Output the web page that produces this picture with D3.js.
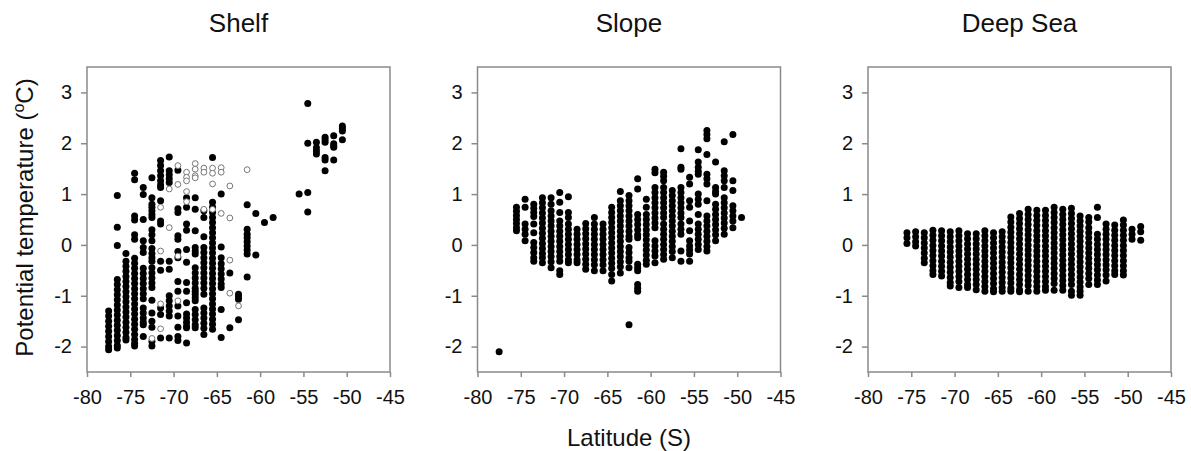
<!DOCTYPE html>
<html>
<head>
<meta charset="utf-8">
<script src="https://cdn.jsdelivr.net/npm/d3@7"></script>
<style>
  body { margin: 0; background: #fff; }
  svg text { font-family: "Liberation Sans", Arial, sans-serif; fill: #111; }
</style>
</head>
<body>
<svg id="chart"></svg>
<script>
// Shelf: filled circles, one list of temperatures per latitude column
const shelfLat = [-77.5, -76.5, -75.5, -74.5, -73.5, -72.5, -71.5, -70.5, -69.5, -68.5, -67.5, -66.5, -65.5,
    -64.5, -63.5, -62.5, -61.5, -60.5, -59.5, -58.5, -55.5, -54.5, -53.5, -52.5, -51.5, -50.5];
const shelfTemp = [
    [-1.3, -1.4, -1.5, -1.6, -1.7, -1.8, -1.9, -2.0, -2.06],
    [0.97, 0.35, -0.01, -0.68, -0.78, -0.88, -0.98, -1.08, -1.18, -1.28, -1.38, -1.48, -1.58, -1.68, -1.78, -1.88, -1.98, -2.03],
    [-0.17, -0.32, -0.42, -0.52, -0.62, -0.72, -0.82, -0.92, -1.02, -1.12, -1.22, -1.32, -1.42, -1.52, -1.62, -1.72, -1.82, -1.87],
    [1.41, 1.28, 0.57, 0.49, 0.2, 0.11, -0.26, -0.36, -0.46, -0.56, -0.66, -0.76, -0.86, -0.96, -1.06, -1.16, -1.26, -1.36, -1.46, -1.56, -1.66, -1.76, -1.86, -1.94, -1.99],
    [1.13, 0.99, 0.5, 0.08, -0.05, -0.15, -0.46, -0.56, -0.66, -0.76, -0.86, -0.96, -1.06, -1.24, -1.34, -1.44, -1.52, -1.57, -1.8],
    [1.32, 0.93, 0.8, 0.74, 0.67, 0.6, 0.54, 0.3, 0.2, 0.08, -0.07, -0.17, -0.25, -0.32, -0.45, -0.55, -0.65, -0.75, -0.84, -1.09, -1.34, -1.5, -1.62, -1.9, -1.99],
    [1.66, 1.56, 1.46, 1.36, 1.26, 1.18, 1.13, 0.87, 0.47, 0.41, -0.32, -0.5, -1.24, -1.37, -1.83],
    [1.73, 1.46, 1.38, 1.3, 1.23, -0.32, -0.48, -1.0, -1.1, -1.2, -1.3, -1.4, -1.83],
    [1.47, 0.71, 0.64, 0.18, 0.11, -0.13, -0.25, -0.72, -0.91, -1.2, -1.4, -1.62, -1.8, -1.88],
    [0.93, 0.74, 0.41, 0.29, -0.09, -0.34, -0.74, -0.91, -1.14, -1.36, -1.44, -1.52, -1.6, -1.63, -1.93],
    [0.93, 0.7, 0.28, -0.05, -0.12, -0.18, -0.45, -0.55, -0.65, -0.75, -0.85, -0.91, -0.97, -1.04, -1.1, -1.27, -1.37, -1.47, -1.57, -1.63],
    [0.67, 0.54, 0.16, -0.05, -0.15, -0.25, -0.35, -0.45, -0.55, -0.65, -0.75, -0.85, -0.97, -1.24, -1.34, -1.44, -1.54, -1.64, -1.76],
    [1.72, 0.84, 0.74, 0.64, 0.54, 0.44, 0.34, 0.24, 0.14, 0.04, -0.06, -0.16, -0.26, -0.36, -0.46, -0.56, -0.66, -0.76, -0.86, -0.96, -1.06, -1.16, -1.26, -1.36, -1.46, -1.56, -1.66],
    [1.0, -0.04, -0.25, -0.37, -0.47, -0.57, -0.67, -0.77, -0.84, -1.27, -1.82],
    [-0.55, -1.63],
    [-0.97, -1.02, -1.07, -1.47],
    [0.79, 0.31, 0.21, 0.14, 0.06, -0.02, -0.1, -0.18, -0.63],
    [0.62, -0.2],
    [0.44],
    [0.54],
    [1.0],
    [2.78, 2.0, 1.03, 0.65],
    [2.02, 1.91, 1.85, 1.79],
    [2.12, 2.07, 2.02, 1.72, 1.67, 1.46],
    [2.15, 1.99, 1.95, 1.92, 1.67],
    [2.34, 2.29, 2.24, 2.07]
];

// Shelf: open circles
const shelfOpenLat = [-72.5, -71.5, -70.5, -69.5, -68.5, -67.5, -66.5, -65.5, -64.5, -63.5, -62.5, -61.5];
const shelfOpenTemp = [
    [-1.84],
    [0.74, -0.12, -1.16, -1.65],
    [1.1, 0.34],
    [1.56, 1.19, -0.22, -1.1],
    [1.43, 1.33, 1.26, 1.05, 0.85],
    [1.6, 1.49, 1.36, 1.32],
    [1.51, 1.43, 0.7],
    [1.51, 1.41, 1.2, 0.7],
    [1.52, 1.43, 0.62],
    [1.16, 0.53, -0.3, -0.95],
    [-1.2],
    [1.48]
];

// Slope
const slopeLat = [-77.5, -75.5, -74.5, -73.5, -72.5, -71.5, -70.5, -69.5, -68.5, -67.5, -66.5, -65.5, -64.5, -63.5,
    -62.5, -61.5, -60.5, -59.5, -58.5, -57.5, -56.5, -55.5, -54.5, -53.5, -52.5, -51.5, -50.5, -49.5];
const slopeTemp = [
    [-2.1],
    [0.74, 0.66, 0.58, 0.5, 0.42, 0.34, 0.28],
    [0.9, 0.74, 0.41, 0.31, 0.21, 0.08],
    [0.8, 0.72, 0.64, 0.56, 0.41, 0.24, 0.05, -0.05, -0.15, -0.25, -0.32],
    [0.93, 0.83, 0.73, 0.63, 0.53, 0.43, 0.33, 0.23, 0.13, 0.03, -0.07, -0.17, -0.25, -0.35],
    [0.93, 0.8, 0.67, 0.57, 0.47, 0.37, 0.27, 0.17, 0.07, -0.03, -0.13, -0.23, -0.33, -0.45],
    [1.03, 0.84, 0.64, 0.47, 0.37, 0.27, 0.17, 0.07, -0.03, -0.13, -0.23, -0.32, -0.51, -0.58],
    [0.95, 0.64, 0.54, 0.41, 0.31, 0.21, 0.11, 0.01, -0.09, -0.19, -0.29, -0.35],
    [0.31, 0.21, 0.11, 0.01, -0.09, -0.19, -0.29, -0.35],
    [0.42, 0.32, 0.22, 0.12, 0.02, -0.08, -0.18, -0.28, -0.38, -0.48],
    [0.54, 0.41, 0.31, 0.21, 0.11, 0.01, -0.09, -0.19, -0.29, -0.39, -0.51],
    [0.41, 0.31, 0.21, 0.11, 0.01, -0.09, -0.19, -0.29, -0.39, -0.51],
    [0.74, 0.64, 0.54, 0.44, 0.34, 0.24, 0.14, 0.04, -0.06, -0.16, -0.26, -0.36, -0.46, -0.58, -0.71],
    [1.05, 0.87, 0.77, 0.67, 0.57, 0.47, 0.37, 0.27, 0.17, 0.07, -0.03, -0.13, -0.23, -0.33, -0.43, -0.55],
    [0.97, 0.87, 0.77, 0.67, 0.57, 0.47, 0.37, 0.27, 0.17, 0.11, -0.05, -0.15, -0.25, -0.32, -0.45, -1.57],
    [1.3, 1.1, 0.6, 0.5, 0.4, 0.3, 0.2, 0.14, -0.38, -0.45, -0.51, -0.78, -0.85, -0.91],
    [0.9, 0.74, 0.6, 0.5, 0.4, 0.3, 0.2, 0.1, 0.0, -0.1, -0.2, -0.3, -0.38],
    [1.49, 1.42, 1.13, 1.03, 0.93, 0.83, 0.73, 0.63, 0.53, 0.43, 0.34, 0.08, -0.02, -0.12, -0.22, -0.35],
    [1.43, 1.35, 1.26, 1.13, 1.03, 0.93, 0.83, 0.73, 0.63, 0.54, 0.41, 0.31, 0.21, 0.11, 0.01, -0.09, -0.19, -0.28],
    [1.07, 0.97, 0.87, 0.77, 0.67, 0.57, 0.47, 0.37, 0.27, 0.17, 0.07, -0.03, -0.13, -0.25],
    [1.89, 1.53, 1.49, 1.13, 1.03, 0.93, 0.83, 0.73, 0.63, 0.54, 0.41, 0.31, 0.21, -0.12, -0.32],
    [1.33, 1.2, 0.87, 0.74, 0.47, 0.28, 0.08, -0.02, -0.1, -0.18, -0.32],
    [1.87, 1.63, 1.53, 1.45, 1.39, 1.0, 0.9, 0.8, 0.6, 0.41, 0.31, 0.21, 0.11, 0.01, -0.09],
    [2.25, 2.17, 2.09, 1.78, 1.39, 1.3, 1.2, 0.87, 0.57, 0.47, 0.37, 0.27, 0.17, 0.07, -0.03, -0.12],
    [1.63, 1.13, 1.05, 1.0, 0.8, 0.7, 0.6, 0.5, 0.4, 0.3, 0.2, 0.08],
    [2.03, 1.46, 1.36, 1.26, 1.13, 0.93, 0.83, 0.73, 0.63, 0.53, 0.43, 0.33, 0.21],
    [2.17, 1.26, 1.07, 0.77, 0.67, 0.57, 0.47, 0.34],
    [0.54]
];

// Deep Sea
const deepLat = [-75.5, -74.5, -73.5, -72.5, -71.5, -70.5, -69.5, -68.5, -67.5, -66.5, -65.5, -64.5, -63.5, -62.5,
    -61.5, -60.5, -59.5, -58.5, -57.5, -56.5, -55.5, -54.5, -53.5, -52.5, -51.5, -50.5, -49.5, -48.5];
const deepTemp = [
    [0.24, 0.14, 0.03],
    [0.26, 0.16, 0.06, -0.02],
    [0.24, 0.14, 0.04, -0.06, -0.16, -0.26, -0.35],
    [0.29, 0.19, 0.09, -0.01, -0.11, -0.21, -0.31, -0.41, -0.51, -0.58],
    [0.28, 0.18, 0.08, -0.02, -0.12, -0.22, -0.32, -0.42, -0.52, -0.61],
    [0.26, 0.16, 0.06, -0.04, -0.14, -0.24, -0.34, -0.44, -0.54, -0.64, -0.74, -0.81],
    [0.28, 0.18, 0.08, -0.02, -0.12, -0.22, -0.32, -0.42, -0.52, -0.62, -0.72, -0.84],
    [0.22, 0.12, 0.02, -0.08, -0.18, -0.28, -0.38, -0.48, -0.58, -0.68, -0.78, -0.84],
    [0.22, 0.12, 0.02, -0.08, -0.18, -0.28, -0.38, -0.48, -0.58, -0.68, -0.78, -0.88],
    [0.28, 0.18, 0.08, -0.02, -0.12, -0.22, -0.32, -0.42, -0.52, -0.62, -0.72, -0.82, -0.91],
    [0.24, 0.14, 0.04, -0.06, -0.16, -0.26, -0.36, -0.46, -0.56, -0.66, -0.76, -0.86, -0.92],
    [0.26, 0.16, 0.06, -0.04, -0.14, -0.24, -0.34, -0.44, -0.54, -0.64, -0.74, -0.84, -0.91],
    [0.55, 0.45, 0.35, 0.25, 0.15, 0.05, -0.05, -0.15, -0.25, -0.35, -0.45, -0.55, -0.65, -0.75, -0.85, -0.91],
    [0.62, 0.52, 0.42, 0.32, 0.22, 0.12, 0.02, -0.08, -0.18, -0.28, -0.38, -0.48, -0.58, -0.68, -0.78, -0.88, -0.92],
    [0.7, 0.6, 0.5, 0.4, 0.3, 0.2, 0.1, 0.0, -0.1, -0.2, -0.3, -0.4, -0.5, -0.6, -0.7, -0.8, -0.91],
    [0.68, 0.58, 0.48, 0.38, 0.28, 0.18, 0.08, -0.02, -0.12, -0.22, -0.32, -0.42, -0.52, -0.62, -0.72, -0.82, -0.91],
    [0.68, 0.58, 0.48, 0.38, 0.28, 0.18, 0.08, -0.02, -0.12, -0.22, -0.32, -0.42, -0.52, -0.62, -0.72, -0.82, -0.89],
    [0.74, 0.64, 0.54, 0.44, 0.34, 0.24, 0.14, 0.04, -0.06, -0.16, -0.26, -0.36, -0.46, -0.56, -0.66, -0.76, -0.89],
    [0.7, 0.6, 0.5, 0.4, 0.3, 0.2, 0.1, 0.0, -0.1, -0.2, -0.3, -0.4, -0.5, -0.6, -0.7, -0.8, -0.89],
    [0.72, 0.62, 0.52, 0.42, 0.32, 0.22, 0.12, 0.02, -0.08, -0.18, -0.28, -0.38, -0.48, -0.58, -0.68, -0.78, -0.91, -0.99],
    [0.57, 0.47, 0.37, 0.27, 0.17, 0.07, -0.03, -0.13, -0.23, -0.33, -0.43, -0.53, -0.63, -0.73, -0.83, -0.91, -0.99],
    [0.54, 0.45, 0.34, 0.24, 0.14, 0.04, -0.06, -0.16, -0.26, -0.36, -0.46, -0.56, -0.66, -0.78],
    [0.74, 0.54, 0.21, 0.11, 0.01, -0.09, -0.19, -0.29, -0.39, -0.49, -0.59, -0.69, -0.78],
    [0.41, 0.31, 0.21, 0.11, 0.01, -0.09, -0.19, -0.29, -0.39, -0.49, -0.59, -0.71],
    [0.39, 0.29, 0.19, 0.09, -0.01, -0.11, -0.21, -0.31, -0.41, -0.51, -0.58],
    [0.49, 0.39, 0.29, 0.19, 0.09, -0.01, -0.11, -0.21, -0.31, -0.41, -0.51, -0.59],
    [0.31, 0.21, 0.11],
    [0.36, 0.26, 0.09]
];

const xTicks = [-80, -75, -70, -65, -60, -55, -50, -45];
const yTicks = [-2, -1, 0, 1, 2, 3];

const panels = [
    { title: "Shelf", lats: shelfLat, temps: shelfTemp, openLats: shelfOpenLat, openTemps: shelfOpenTemp },
    { title: "Slope", lats: slopeLat, temps: slopeTemp },
    { title: "Deep Sea", lats: deepLat, temps: deepTemp }
];

const width = 1191, height = 451;
const pw = 303, ph = 305, plotTop = 67, left0 = 87, step = 390.5;
const axisColor = "#8a8a8a";

const svg = d3.select("#chart").attr("width", width).attr("height", height);

const x = d3.scaleLinear().domain([-80, -45]).range([0, pw]);
const y = d3.scaleLinear().domain([-2.5, 3.5]).range([ph, 0]);

const toPoints = (lats, temps) => lats.flatMap((lat, i) => temps[i].map(t => ({ lat, t })));

panels.forEach((p, i) => {
    const g = svg.append("g").attr("transform", `translate(${left0 + i * step},${plotTop})`);

    g.append("rect")
        .attr("width", pw).attr("height", ph)
        .attr("fill", "none").attr("stroke", axisColor).attr("stroke-width", 1.5);

    const xAxis = g.append("g").attr("transform", `translate(0,${ph})`)
        .call(d3.axisBottom(x).tickValues(xTicks).tickSize(5).tickSizeOuter(0).tickPadding(13).tickFormat(d => String(d)));
    const yAxis = g.append("g")
        .call(d3.axisLeft(y).tickValues(yTicks).tickSize(6).tickSizeOuter(0).tickPadding(9).tickFormat(d => String(d)));

    [xAxis, yAxis].forEach(a => {
        a.select(".domain").remove();
        a.selectAll(".tick line").attr("stroke", axisColor).attr("stroke-width", 1.5);
        a.selectAll(".tick text").attr("font-size", 20).attr("fill", "#111");
    });

    g.append("g").selectAll("circle")
        .data(toPoints(p.lats, p.temps))
        .enter().append("circle")
        .attr("cx", d => x(d.lat))
        .attr("cy", d => y(d.t))
        .attr("r", 3.5)
        .attr("fill", "#000");

    if (p.openLats) {
        g.append("g").selectAll("circle")
            .data(toPoints(p.openLats, p.openTemps))
            .enter().append("circle")
            .attr("cx", d => x(d.lat))
            .attr("cy", d => y(d.t))
            .attr("r", 2.9)
            .attr("fill", "#fff")
            .attr("stroke", "#777")
            .attr("stroke-width", 1);
    }

    svg.append("text")
        .attr("x", left0 + i * step + pw / 2)
        .attr("y", 32)
        .attr("text-anchor", "middle")
        .attr("font-size", 26)
        .text(p.title);
});

// axis titles
svg.append("text")
    .attr("x", left0 + step + pw / 2)
    .attr("y", 446)
    .attr("text-anchor", "middle")
    .attr("font-size", 24)
    .text("Latitude (S)");

const yLabel = svg.append("text")
    .attr("transform", `translate(33,${plotTop + ph / 2 - 2}) rotate(-90)`)
    .attr("text-anchor", "middle")
    .attr("font-size", 24);
yLabel.append("tspan").text("Potential temperature (");
yLabel.append("tspan").attr("font-size", 16).attr("dy", -9).text("o");
yLabel.append("tspan").attr("dy", 9).text("C)");
</script>
</body>
</html>
